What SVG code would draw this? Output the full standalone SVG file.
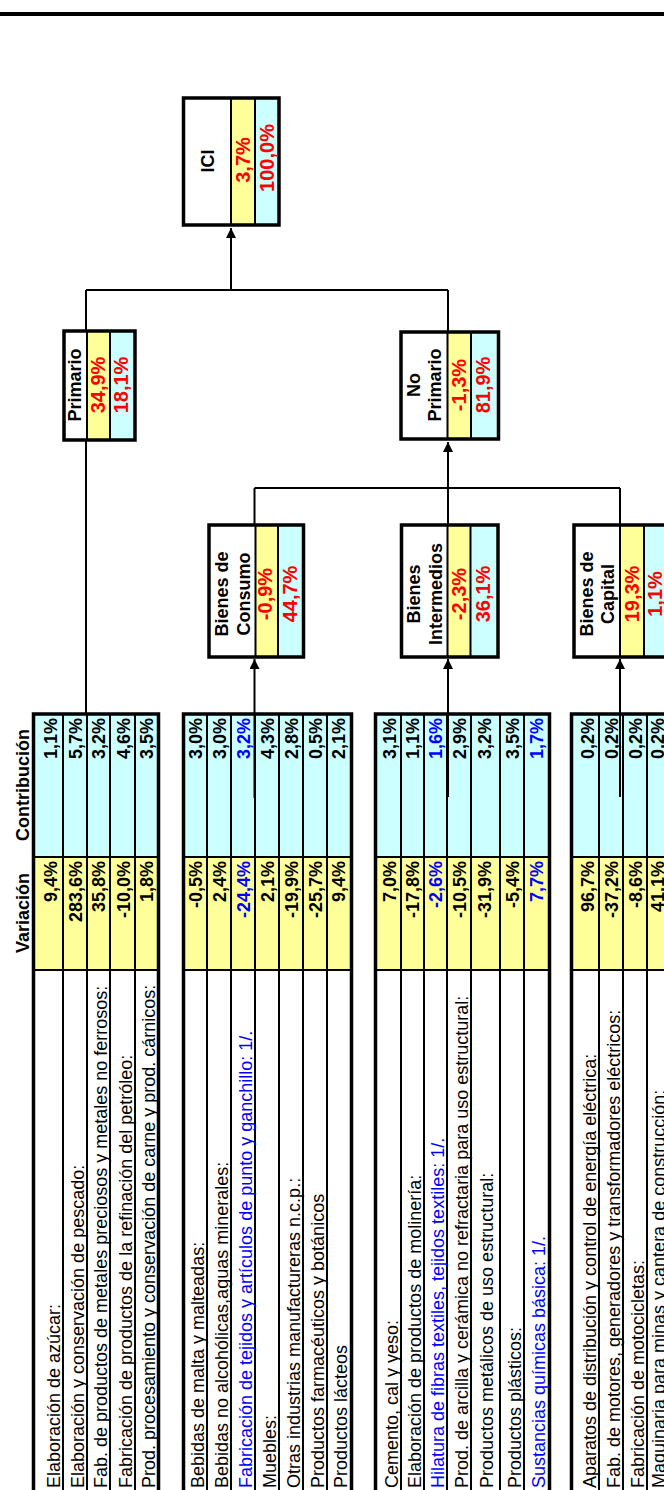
<svg xmlns="http://www.w3.org/2000/svg" width="664" height="1490" viewBox="0 0 664 1490">
<defs>
<style>
text{font-family:"Liberation Sans",Arial,sans-serif;font-size:18px;fill:#000}
.b{font-weight:bold}
.n{font-weight:bold;font-size:20px;fill:#FF0000}
.m{text-anchor:middle}
.e{text-anchor:end}
.bl{fill:#0000FF}
.cy{fill:#CCFFFF}
.ye{fill:#FFFF99}
.wh{fill:#FFFFFF}
.g{stroke:#000;stroke-width:2;fill:none}
.o{stroke:#000;stroke-width:3.5;fill:none}
.c{stroke:#000;stroke-width:2;fill:none}
</style>
<marker id="ah" markerUnits="userSpaceOnUse" markerWidth="10" markerHeight="10" refX="10" refY="5" orient="auto">
<path d="M0,0 L10,5 L0,10 z" fill="#000"/>
</marker>
</defs>
<rect x="0" y="0" width="664" height="1490" fill="#FFFFFF"/>
<rect x="0" y="12" width="664" height="4" fill="#000"/>

<g id="headers">
<text class="b m" transform="translate(29,785) rotate(-90)">Contribución</text>
<text class="b m" transform="translate(29,913) rotate(-90)">Variación</text>
</g>

<g id="table-primario">
<rect class="cy" x="33.5" y="714" width="125" height="143"/>
<rect class="ye" x="33.5" y="857" width="125" height="113"/>
<path class="g" d="M63,714V1500M87,714V1500M110,714V1500M135,714V1500M33.5,857H158.5M33.5,970H158.5"/>
<rect class="o" x="33.5" y="714" width="125" height="800"/>
<text transform="translate(60,1488) rotate(-90)">Elaboración de azúcar:</text>
<text transform="translate(84,1488) rotate(-90)">Elaboración y conservación de pescado:</text>
<text transform="translate(107,1488) rotate(-90)">Fab. de productos de metales preciosos y metales no ferrosos:</text>
<text transform="translate(132,1488) rotate(-90)">Fabricación de productos de la refinación del petróleo:</text>
<text transform="translate(155,1488) rotate(-90)">Prod. procesamiento y conservación de carne y prod. cárnicos:</text>
<text class="b e" transform="translate(57,861) rotate(-90)">9,4%</text>
<text class="b e" transform="translate(82,861) rotate(-90)">283,6%</text>
<text class="b e" transform="translate(105,861) rotate(-90)">35,8%</text>
<text class="b e" transform="translate(130,861) rotate(-90)">-10,0%</text>
<text class="b e" transform="translate(153,861) rotate(-90)">1,8%</text>
<text class="b e" transform="translate(57,718) rotate(-90)">1,1%</text>
<text class="b e" transform="translate(82,718) rotate(-90)">5,7%</text>
<text class="b e" transform="translate(105,718) rotate(-90)">3,2%</text>
<text class="b e" transform="translate(130,718) rotate(-90)">4,6%</text>
<text class="b e" transform="translate(153,718) rotate(-90)">3,5%</text>
</g>

<g id="table-consumo">
<rect class="cy" x="183.5" y="714" width="168" height="143"/>
<rect class="ye" x="183.5" y="857" width="168" height="113"/>
<path class="g" d="M207,714V1500M231,714V1500M255,714V1500M279,714V1500M303,714V1500M327,714V1500M183.5,857H351.5M183.5,970H351.5"/>
<rect class="o" x="183.5" y="714" width="168" height="800"/>
<text transform="translate(204,1488) rotate(-90)">Bebidas de malta y malteadas:</text>
<text transform="translate(228,1488) rotate(-90)">Bebidas no alcohólicas,aguas minerales:</text>
<text class="bl" transform="translate(252,1488) rotate(-90)">Fabricación de tejidos y artículos de punto y ganchillo: 1/.</text>
<text transform="translate(276,1488) rotate(-90)">Muebles:</text>
<text transform="translate(300,1488) rotate(-90)">Otras industrias manufactureras n.c.p.:</text>
<text transform="translate(324,1488) rotate(-90)">Productos farmacéuticos y botánicos</text>
<text transform="translate(347,1488) rotate(-90)">Productos lácteos</text>
<text class="b e" transform="translate(202,861) rotate(-90)">-0,5%</text>
<text class="b e" transform="translate(226,861) rotate(-90)">2,4%</text>
<text class="b e bl" transform="translate(250,861) rotate(-90)">-24,4%</text>
<text class="b e" transform="translate(274,861) rotate(-90)">2,1%</text>
<text class="b e" transform="translate(298,861) rotate(-90)">-19,9%</text>
<text class="b e" transform="translate(322,861) rotate(-90)">-25,7%</text>
<text class="b e" transform="translate(345,861) rotate(-90)">9,4%</text>
<text class="b e" transform="translate(202,718) rotate(-90)">3,0%</text>
<text class="b e" transform="translate(226,718) rotate(-90)">3,0%</text>
<text class="b e bl" transform="translate(250,718) rotate(-90)">3,2%</text>
<text class="b e" transform="translate(274,718) rotate(-90)">4,3%</text>
<text class="b e" transform="translate(298,718) rotate(-90)">2,8%</text>
<text class="b e" transform="translate(322,718) rotate(-90)">0,5%</text>
<text class="b e" transform="translate(345,718) rotate(-90)">2,1%</text>
</g>

<g id="table-intermedios">
<rect class="cy" x="375.5" y="714" width="174" height="143"/>
<rect class="ye" x="375.5" y="857" width="174" height="113"/>
<path class="g" d="M401,714V1500M424,714V1500M447,714V1500M471,714V1500M500,714V1500M524,714V1500M375.5,857H549.5M375.5,970H549.5"/>
<rect class="o" x="375.5" y="714" width="174" height="800"/>
<text transform="translate(398,1488) rotate(-90)">Cemento, cal y yeso:</text>
<text transform="translate(421,1488) rotate(-90)">Elaboración de productos de molinería:</text>
<text class="bl" transform="translate(444,1488) rotate(-90)">Hilatura de fibras textiles, tejidos textiles: 1/.</text>
<text transform="translate(468,1488) rotate(-90)">Prod. de arcilla y cerámica no refractaria para uso estructural:</text>
<text transform="translate(493,1488) rotate(-90)">Productos metálicos de uso estructural:</text>
<text transform="translate(521,1488) rotate(-90)">Productos plásticos:</text>
<text class="bl" transform="translate(545,1488) rotate(-90)">Sustancias químicas básica: 1/.</text>
<text class="b e" transform="translate(396,861) rotate(-90)">7,0%</text>
<text class="b e" transform="translate(419,861) rotate(-90)">-17,8%</text>
<text class="b e bl" transform="translate(442,861) rotate(-90)">-2,6%</text>
<text class="b e" transform="translate(466,861) rotate(-90)">-10,5%</text>
<text class="b e" transform="translate(491,861) rotate(-90)">-31,9%</text>
<text class="b e" transform="translate(519,861) rotate(-90)">-5,4%</text>
<text class="b e bl" transform="translate(543,861) rotate(-90)">7,7%</text>
<text class="b e" transform="translate(396,718) rotate(-90)">3,1%</text>
<text class="b e" transform="translate(419,718) rotate(-90)">1,1%</text>
<text class="b e bl" transform="translate(442,718) rotate(-90)">1,6%</text>
<text class="b e" transform="translate(466,718) rotate(-90)">2,9%</text>
<text class="b e" transform="translate(491,718) rotate(-90)">3,2%</text>
<text class="b e" transform="translate(519,718) rotate(-90)">3,5%</text>
<text class="b e bl" transform="translate(543,718) rotate(-90)">1,7%</text>
</g>

<g id="table-capital">
<rect class="cy" x="571.5" y="714" width="110" height="143"/>
<rect class="ye" x="571.5" y="857" width="110" height="113"/>
<path class="g" d="M599,714V1500M623,714V1500M647,714V1500M571.5,857H680M571.5,970H680"/>
<rect class="o" x="571.5" y="714" width="110" height="800"/>
<text transform="translate(596,1488) rotate(-90)">Aparatos de distribución y control de energía eléctrica:</text>
<text transform="translate(620,1488) rotate(-90)">Fab. de motores, generadores y transformadores eléctricos:</text>
<text transform="translate(644,1488) rotate(-90)">Fabricación de motocicletas:</text>
<text transform="translate(665,1488) rotate(-90)">Maquinaria para minas y cantera de construcción:</text>
<text class="b e" transform="translate(594,861) rotate(-90)">96,7%</text>
<text class="b e" transform="translate(618,861) rotate(-90)">-37,2%</text>
<text class="b e" transform="translate(642,861) rotate(-90)">-8,6%</text>
<text class="b e" transform="translate(664,861) rotate(-90)">41,1%</text>
<text class="b e" transform="translate(594,718) rotate(-90)">0,2%</text>
<text class="b e" transform="translate(618,718) rotate(-90)">0,2%</text>
<text class="b e" transform="translate(642,718) rotate(-90)">0,2%</text>
<text class="b e" transform="translate(664,718) rotate(-90)">0,2%</text>
</g>

<g id="connectors">
<path class="c" d="M231,290V228" marker-end="url(#ah)"/>
<path class="c" d="M86,290H448M86,290V714M448,290V332"/>
<path class="c" d="M448,488V442" marker-end="url(#ah)"/>
<path class="c" d="M254.5,488H620M254.5,488V525M448,488V525M620,488V525"/>
<path class="c" d="M254.5,798V659" marker-end="url(#ah)"/>
<path class="c" d="M448,797V659" marker-end="url(#ah)"/>
<path class="c" d="M620,797V659" marker-end="url(#ah)"/>
</g>

<g id="node-ici">
<rect class="wh" x="183.5" y="98" width="95.5" height="127"/>
<rect class="ye" x="231" y="98" width="24" height="127"/>
<rect class="cy" x="255" y="98" width="24" height="127"/>
<path class="g" d="M231,98V225M255,98V225"/>
<rect class="o" x="183.5" y="98" width="95.5" height="127"/>
<text class="b m" transform="translate(214,161) rotate(-90)">ICI</text>
<text class="n m" transform="translate(250,160) rotate(-90)">3,7%</text>
<text class="n m" transform="translate(274,158) rotate(-90)">100,0%</text>
</g>

<g id="node-primario">
<rect class="wh" x="64" y="331" width="71" height="109"/>
<rect class="ye" x="87" y="331" width="23" height="109"/>
<rect class="cy" x="110" y="331" width="25" height="109"/>
<path class="g" d="M87,331V440M110,331V440"/>
<rect class="o" x="64" y="331" width="71" height="109"/>
<text class="b m" transform="translate(81,385) rotate(-90)">Primario</text>
<text class="n m" transform="translate(105,385) rotate(-90)">34,9%</text>
<text class="n m" transform="translate(128,385) rotate(-90)">18,1%</text>
</g>

<g id="node-noprimario">
<rect class="wh" x="401" y="332" width="97.5" height="107"/>
<rect class="ye" x="447.5" y="332" width="23.5" height="107"/>
<rect class="cy" x="471" y="332" width="27.5" height="107"/>
<path class="g" d="M447.5,332V439M471,332V439"/>
<rect class="o" x="401" y="332" width="97.5" height="107"/>
<text class="b m" transform="translate(420,385) rotate(-90)">No</text>
<text class="b m" transform="translate(441,385) rotate(-90)">Primario</text>
<text class="n m" transform="translate(466,385) rotate(-90)">-1,3%</text>
<text class="n m" transform="translate(490,385) rotate(-90)">81,9%</text>
</g>

<g id="node-consumo">
<rect class="wh" x="209" y="525" width="94.5" height="132"/>
<rect class="ye" x="255.5" y="525" width="22.5" height="132"/>
<rect class="cy" x="278" y="525" width="25.5" height="132"/>
<path class="g" d="M255.5,525V657M278,525V657"/>
<rect class="o" x="209" y="525" width="94.5" height="132"/>
<text class="b m" transform="translate(228,594) rotate(-90)">Bienes de</text>
<text class="b m" transform="translate(250,594) rotate(-90)">Consumo</text>
<text class="n m" transform="translate(272,594) rotate(-90)">-0,9%</text>
<text class="n m" transform="translate(297,594) rotate(-90)">44,7%</text>
</g>

<g id="node-intermedios">
<rect class="wh" x="401.5" y="525" width="96.5" height="132"/>
<rect class="ye" x="447.5" y="525" width="23" height="132"/>
<rect class="cy" x="470.5" y="525" width="27.5" height="132"/>
<path class="g" d="M447.5,525V657M470.5,525V657"/>
<rect class="o" x="401.5" y="525" width="96.5" height="132"/>
<text class="b m" transform="translate(420,594) rotate(-90)">Bienes</text>
<text class="b m" transform="translate(442,594) rotate(-90)">Intermedios</text>
<text class="n m" transform="translate(466,594) rotate(-90)">-2,3%</text>
<text class="n m" transform="translate(490,594) rotate(-90)">36,1%</text>
</g>

<g id="node-capital">
<rect class="wh" x="574" y="525" width="94" height="132"/>
<rect class="ye" x="620" y="525" width="24" height="132"/>
<rect class="cy" x="644" y="525" width="24" height="132"/>
<path class="g" d="M620,525V657M644,525V657"/>
<rect class="o" x="574" y="525" width="94" height="132"/>
<text class="b m" transform="translate(593,594) rotate(-90)">Bienes de</text>
<text class="b m" transform="translate(614,594) rotate(-90)">Capital</text>
<text class="n m" transform="translate(639,594) rotate(-90)">19,3%</text>
<text class="n m" transform="translate(662,594) rotate(-90)">1,1%</text>
</g>
</svg>
